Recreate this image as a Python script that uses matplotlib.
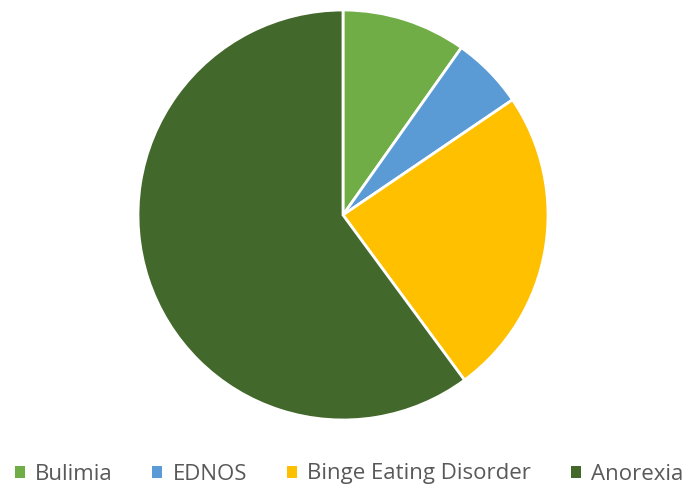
import matplotlib.pyplot as plt
from matplotlib.patches import Patch

labels = ["Bulimia", "EDNOS", "Binge Eating Disorder", "Anorexia"]
values = [9.8, 5.7, 24.4, 60.1]
colors = ["#70AD47", "#5B9BD5", "#FFC000", "#43682B"]

W, H = 688, 496
fig = plt.figure(figsize=(W / 100, H / 100), dpi=100)
cx, cy, r = 343, 215, 205
ax = fig.add_axes([(cx - r) / W, (H - cy - r) / H, 2 * r / W, 2 * r / H])
ax.pie(values, colors=colors, startangle=90, counterclock=False,
       wedgeprops=dict(edgecolor="white", linewidth=2))
ax.set_xlim(-1, 1)
ax.set_ylim(-1, 1)
ax.set_aspect("equal")
ax.axis("off")

handles = [Patch(facecolor=c, edgecolor="none") for c in colors]
fig.legend(handles, labels, loc="center", bbox_to_anchor=(349 / W, 1 - 474 / H),
           ncol=4, frameon=False, handlelength=0.45, handleheight=0.45,
           handletextpad=0.45, columnspacing=1.8,
           prop=dict(family="Open Sans", size=16), labelcolor="#595959")

fig.savefig("out.png", dpi=100)
